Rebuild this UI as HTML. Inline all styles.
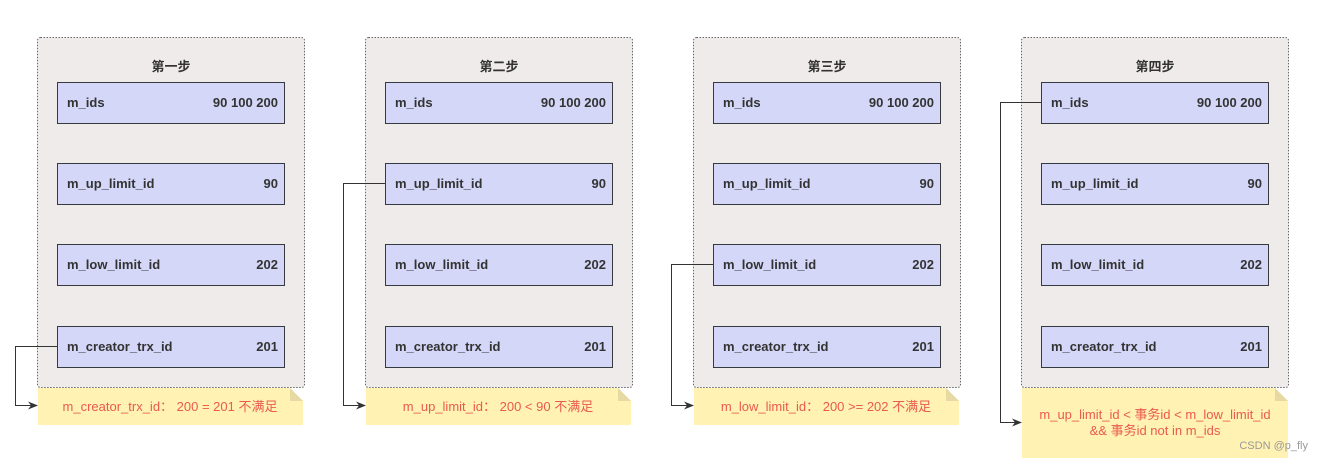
<!DOCTYPE html>
<html><head><meta charset="utf-8"><style>
body{margin:0;background:#fff;width:1325px;height:461px;overflow:hidden}
text{font-family:"Liberation Sans","Noto Sans CJK SC",sans-serif}
.l{font-size:13px;font-weight:bold;fill:#333}
.t{font-size:13px;font-weight:bold;fill:#333;text-anchor:middle}
.n{font-size:13px;fill:#ea5a4f;text-anchor:middle}
</style></head><body>
<svg width="1325" height="461" xmlns="http://www.w3.org/2000/svg">
<defs><marker id="a" markerWidth="10" markerHeight="8" refX="9" refY="4" orient="auto" markerUnits="userSpaceOnUse"><path d="M0,0 L10,4 L0,8 L3,4 Z" fill="#333"/></marker>
<g id="p">
<rect x="0.5" y="0.5" width="267" height="350" rx="3" fill="#efebea" stroke="#666" stroke-dasharray="1.5,1.5"/>
<rect x="20.5" y="45.5" width="227" height="41" fill="#d4d7f8" stroke="#36393d"/>
<rect x="20.5" y="126.5" width="227" height="41" fill="#d4d7f8" stroke="#36393d"/>
<rect x="20.5" y="207.5" width="227" height="41" fill="#d4d7f8" stroke="#36393d"/>
<rect x="20.5" y="289.5" width="227" height="41" fill="#d4d7f8" stroke="#36393d"/>
<text class="l" x="30" y="70">m_ids</text><text class="l" x="241" y="70" text-anchor="end">90  100  200</text>
<text class="l" x="30" y="151">m_up_limit_id</text><text class="l" x="241" y="151" text-anchor="end">90</text>
<text class="l" x="30" y="232">m_low_limit_id</text><text class="l" x="241" y="232" text-anchor="end">202</text>
<text class="l" x="30" y="314">m_creator_trx_id</text><text class="l" x="241" y="314" text-anchor="end">201</text>
</g></defs>
<g transform="translate(37,37)"><use href="#p"/><text class="t" x="134" y="34">第一步</text></g>
<g transform="translate(365,37)"><use href="#p"/><text class="t" x="134" y="34">第二步</text></g>
<g transform="translate(693,37)"><use href="#p"/><text class="t" x="134" y="34">第三步</text></g>
<g transform="translate(1021,37)"><use href="#p"/><text class="t" x="134" y="34">第四步</text></g>
<!-- notes -->
<path d="M38,388 H290 L303,401 V425 H38 Z" fill="#fff2b3"/><path d="M290,388 V401 H303 Z" fill="#e6d9a3"/>
<path d="M366,388 H618 L631,401 V425 H366 Z" fill="#fff2b3"/><path d="M618,388 V401 H631 Z" fill="#e6d9a3"/>
<path d="M694,388 H946 L959,401 V425 H694 Z" fill="#fff2b3"/><path d="M946,388 V401 H959 Z" fill="#e6d9a3"/>
<path d="M1022,388 H1275 L1288,401 V458 H1022 Z" fill="#fff2b3"/><path d="M1275,388 V401 H1288 Z" fill="#e6d9a3"/>
<text class="n" x="170" y="411">m_creator_trx_id：  200 = 201 不满足</text>
<text class="n" x="498" y="411">m_up_limit_id：  200 &lt; 90 不满足</text>
<text class="n" x="826" y="411">m_low_limit_id：  200 &gt;= 202 不满足</text>
<text class="n" x="1155" y="419">m_up_limit_id &lt; 事务id &lt; m_low_limit_id</text>
<text class="n" x="1155" y="435">&amp;&amp; 事务id not in m_ids</text>
<text x="1308" y="449" font-size="11" fill="#999" text-anchor="end">CSDN @p_fly</text>
<!-- connectors -->
<g fill="none" stroke="#333" stroke-width="1">
<path d="M57,346.5 H15.5 V405.5 H37" marker-end="url(#a)"/>
<path d="M385,183.5 H343.5 V405.5 H365" marker-end="url(#a)"/>
<path d="M713,264.5 H671.5 V405.5 H693" marker-end="url(#a)"/>
<path d="M1041,102.5 H1000.5 V422.5 H1021" marker-end="url(#a)"/>
</g>
</svg>
</body></html>
